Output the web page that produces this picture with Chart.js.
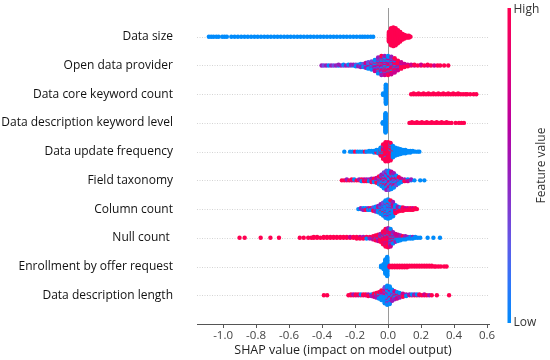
<!DOCTYPE html>
<html><head><meta charset="utf-8">
<script src="https://cdn.jsdelivr.net/npm/chart.js@4/dist/chart.umd.min.js"></script>
<style>html,body{margin:0;padding:0;background:#fff;}#wrap{width:550px;height:360px;}</style>
</head><body><div id="wrap"><canvas id="c" width="550" height="360"></canvas></div>
<script>
// Features, top to bottom
const features = ["Data size","Open data provider","Data core keyword count","Data description keyword level","Data update frequency","Field taxonomy","Column count","Null count ","Enrollment by offer request","Data description length"];
const xTicks = [-1.0,-0.8,-0.6,-0.4,-0.2,0.0,0.2,0.4,0.6];
const xTitle = "SHAP value (impact on model output)";
const cbarTitle = "Feature value";
const cbarHigh = "High", cbarLow = "Low";
// feature-value level of each point code: b=low ... r=high
const featureLevels = {b:0, v:0.3, p:0.5, m:0.72, r:1};

// Each entry: [SHAP value, one char per point at that value (its feature level)]
const dataSizeBins = [
[-1.086,"b"],[-1.072,"b"],[-1.058,"b"],[-1.041,"b"],[-1.027,"b"],[-1.005,"b"],[-0.991,"b"],[-0.977,"b"],
[-0.95,"b"],[-0.93,"b"],[-0.91,"b"],[-0.89,"b"],[-0.87,"b"],[-0.85,"b"],[-0.83,"b"],[-0.81,"b"],[-0.79,"b"],[-0.77,"b"],[-0.75,"b"],[-0.73,"b"],[-0.71,"b"],[-0.69,"b"],[-0.67,"b"],[-0.65,"b"],[-0.63,"b"],[-0.61,"b"],[-0.59,"b"],[-0.57,"b"],[-0.55,"b"],[-0.53,"b"],[-0.51,"b"],[-0.49,"b"],[-0.47,"b"],[-0.45,"b"],[-0.43,"b"],[-0.41,"b"],[-0.39,"b"],[-0.37,"b"],[-0.35,"b"],[-0.33,"b"],[-0.31,"b"],[-0.29,"b"],[-0.27,"b"],[-0.25,"b"],[-0.23,"b"],[-0.21,"b"],[-0.19,"b"],[-0.17,"b"],[-0.155,"b"],[-0.14,"b"],[-0.123,"b"],[-0.105,"b"],[-0.09,"b"],
[0.005,"rrrrrrrrrrr"],[0.018,"rrrrrrrrrrrrrrrrrrr"],[0.032,"rrrrrrrrrrrrrrrrrrrrr"],[0.046,"rrrrrrrrrrrrrrrrrrr"],[0.06,"rrrrrrrrrrrrrrr"],[0.074,"rrrrrrrrrrr"],[0.088,"rrrrrrr"],[0.1,"rrrrr"],[0.113,"rrr"],[0.126,"rrr"],[0.136,"r"]
];
const openDataProviderBins = [
[-0.403,"p"],[-0.39,"v"],[-0.375,"p"],[-0.36,"b"],[-0.345,"p"],[-0.33,"v"],[-0.315,"p"],[-0.3,"bp"],[-0.285,"p"],[-0.27,"vb"],[-0.255,"p"],[-0.24,"pb"],[-0.225,"vp"],[-0.21,"bp"],[-0.195,"pvb"],[-0.18,"pbp"],[-0.165,"bpvbp"],[-0.15,"pbmvb"],[-0.135,"pbvpbmp"],
[-0.12,"pbvpmbpvb"],[-0.10,"bpmvbpbrpvb"],[-0.08,"pbrvpbmbprbvpbm"],[-0.06,"rbpbmrvbprbpmbrpbvmpb"],[-0.04,"bprbmrpbvrbmpbrbprmbvpbrp"],[-0.02,"rbpmbrbprvbmrbpbrmpbrbvpm"],[0.0,"brpbrmbpbrvprbmbrpbmrbpbr"],[0.02,"rmbrpbrmrbpmrbrpbmrbrpm"],[0.04,"rmrpbrmrbrmprbrmprm"],[0.06,"rmrmprmrbrmrm"],[0.08,"rmrmrprmr"],[0.10,"rmrmr"],[0.12,"rmr"],
[0.14,"rm"],[0.16,"mr"],[0.18,"r"],[0.2,"rm"],[0.22,"r"],[0.24,"mr"],[0.26,"r"],[0.28,"m"],[0.30,"r"],[0.316,"r"],[0.34,"r"],[0.365,"r"]
];
const coreKeywordBins = [
[-0.03,"bbb"],[-0.013,"bbbbbbbbbbbbbbbbbbbbbbbbbbb"],
[0.14,"r"],[0.155,"rr"],[0.17,"r"],[0.185,"rr"],[0.2,"r"],[0.215,"rr"],[0.23,"r"],[0.245,"rr"],[0.26,"r"],[0.275,"rr"],[0.29,"r"],[0.305,"rr"],[0.32,"r"],[0.335,"rr"],[0.35,"r"],[0.365,"rr"],[0.38,"r"],[0.395,"rr"],[0.41,"r"],[0.425,"rr"],[0.44,"r"],[0.455,"r"],[0.47,"r"],[0.48,"r"],[0.498,"r"],[0.519,"r"],[0.535,"r"]
];
const descKeywordLevelBins = [
[-0.032,"bbb"],[-0.015,"bbbbbbbbbbbbbbbbbbbbbbbbbbb"],
[0.13,"r"],[0.145,"rr"],[0.16,"r"],[0.175,"rr"],[0.19,"r"],[0.205,"rr"],[0.22,"r"],[0.235,"rr"],[0.25,"r"],[0.265,"rr"],[0.28,"r"],[0.295,"rr"],[0.31,"r"],[0.325,"rr"],[0.34,"r"],[0.355,"rr"],[0.37,"r"],[0.385,"r"],[0.41,"r"],[0.43,"r"],[0.445,"r"],[0.46,"r"]
];
const updateFrequencyBins = [
[-0.265,"b"],[-0.23,"b"],[-0.215,"b"],[-0.2,"r"],[-0.185,"b"],[-0.17,"b"],[-0.155,"b"],[-0.14,"r"],[-0.13,"b"],[-0.115,"bb"],[-0.1,"bb"],[-0.085,"bbb"],[-0.07,"bbrb"],[-0.058,"bbrbb"],
[-0.045,"rbbrbbrbbbr"],[-0.03,"rrrrbrrrbrrprrrbrrr"],[-0.015,"rrrrrrrprrrrrrrrbrrrrrrrr"],[0.0,"rrrrrrrrrrprrrrrrrrrrrrrr"],[0.015,"rrrrrbrrrrrrrbrrrrrbrrr"],[0.03,"rbrbbrbbbbbbbbb"],[0.045,"bbbbbbbbbbb"],[0.06,"bbbbbbbbb"],[0.075,"bbbbbbb"],[0.09,"bbbbb"],[0.105,"bbbbb"],[0.12,"bbb"],[0.135,"bbb"],[0.15,"bb"],[0.165,"b"],[0.18,"b"],[0.19,"b"]
];
const fieldTaxonomyBins = [
[-0.28,"r"],[-0.265,"r"],[-0.25,"rp"],[-0.235,"r"],[-0.22,"pr"],[-0.205,"rb"],[-0.19,"r"],[-0.175,"rp"],[-0.16,"prb"],[-0.145,"rmr"],[-0.13,"bpr"],[-0.115,"rpb"],[-0.1,"prbpr"],[-0.085,"brprb"],[-0.07,"pbrpbmr"],
[-0.055,"bprbmpbvprb"],[-0.04,"pbvbprbmbpvbrpb"],[-0.025,"bpbvmbprbpbvrbpmbpbvb"],[-0.01,"pbmbvpbrbpvbmbpbrvbpbmbvp"],[0.005,"bpvbmbpbrbvpbmbpvbrbpbmbv"],[0.02,"pbvbmpbrbpvbmbpbvrbpbmb"],[0.035,"bpbmvbprbpbvmbpbrpb"],[0.05,"pbmbvpbrbpmbv"],[0.065,"bpmbvbprb"],[0.08,"bpbmb"],
[0.1,"bpr"],[0.12,"pbm"],[0.14,"bp"],[0.16,"b"],[0.195,"b"],[0.22,"b"]
];
const columnCountBins = [
[-0.18,"b"],[-0.165,"bp"],[-0.15,"rbp"],[-0.135,"pbr"],[-0.12,"bpb"],[-0.105,"prb"],[-0.09,"bpbvr"],[-0.075,"pbrbvbp"],[-0.06,"bpbvbrbpb"],[-0.045,"bpbvbpbbrbbpb"],[-0.03,"bpbbvbbpbbrbbpbvb"],[-0.015,"bbpbbvbbpbbbrbbpbvbbpbb"],[0.0,"bbpbvbbpbbbvbbpbbrbbpbvbb"],[0.015,"bpbbvbbpbbmbbpbvbbpbbrb"],[0.03,"bpbrbvbpbrbpbmbrbpb"],[0.045,"rbpbmbrbpbr"],[0.06,"rbmrbpr"],[0.075,"rmrbr"],[0.09,"rmbrr"],[0.105,"rmr"],[0.12,"rmr"],[0.135,"mrr"],[0.15,"rmr"],[0.165,"rr"],[0.175,"r"]
];
const nullCountBins = [
[-0.9,"r"],[-0.869,"r"],[-0.772,"r"],[-0.713,"r"],[-0.661,"r"],[-0.535,"r"],[-0.511,"r"],[-0.484,"r"],
[-0.465,"r"],[-0.45,"rr"],[-0.43,"rr"],[-0.41,"r"],[-0.39,"rr"],[-0.37,"rr"],[-0.35,"rr"],[-0.33,"rr"],[-0.31,"rr"],[-0.29,"rr"],[-0.27,"rr"],[-0.25,"rr"],[-0.23,"rm"],[-0.21,"rr"],[-0.19,"rrr"],[-0.17,"rmr"],[-0.15,"rpr"],[-0.13,"rrb"],[-0.11,"mrp"],[-0.09,"rpbrm"],[-0.075,"rmrpbrr"],[-0.06,"rprmbrprm"],
[-0.045,"rmrprbrmrpr"],[-0.03,"rrmrprrbrmrprrmrr"],[-0.015,"rrrmrprrrbrmrrprrmrrprr"],[0.0,"rrprrmrrrprbrrmrrprrrmrpr"],[0.015,"prmrpbrmprbpmrprbmprpbm"],[0.03,"pbmprbpmbprbmpb"],[0.045,"bpmbrpbpbmp"],[0.06,"bpbrbpbmb"],[0.075,"bpbmbpb"],[0.09,"bpbrb"],[0.105,"bpbpb"],[0.12,"bpb"],[0.135,"pbb"],[0.15,"bpb"],[0.165,"bb"],[0.18,"b"],[0.195,"b"],[0.24,"b"],[0.275,"b"],[0.315,"b"]
];
const enrollmentBins = [
[-0.042,"bbb"],[-0.027,"bbbbbbb"],[-0.016,"bbbbbbbbbbbbbbbbbbb"],[-0.005,"bbbbbbbbbbbbbbbbbbbbbbbbb"],
[0.01,"rrr"],[0.025,"rrr"],[0.04,"rrr"],[0.055,"rrr"],[0.07,"rrr"],[0.085,"rrr"],[0.1,"rrr"],[0.115,"rrr"],[0.13,"rr"],[0.145,"rr"],[0.16,"rr"],[0.175,"rr"],[0.19,"rr"],[0.205,"rr"],[0.22,"rr"],[0.235,"rr"],[0.25,"rr"],[0.265,"rr"],[0.28,"r"],[0.29,"r"],[0.305,"r"],[0.32,"r"],[0.34,"r"],[0.355,"r"]
];
const descLengthBins = [
[-0.389,"r"],[-0.369,"r"],[-0.24,"r"],[-0.225,"rr"],[-0.21,"rp"],[-0.195,"rr"],[-0.18,"pr"],[-0.165,"rb"],[-0.15,"rr"],[-0.135,"mr"],[-0.12,"rpr"],[-0.1,"rbp"],[-0.085,"prbrm"],[-0.07,"rbpbmrp"],[-0.055,"bprbmbprb"],[-0.04,"bpbrbvbmbpbrb"],[-0.02,"bpbvbrbpbmbvbpbrbpbvb"],[-0.005,"bbpbvbbpbrbbvbpbbmbbpbvbb"],[0.01,"bpbvbbpbrbvbbpbmbbpbvbb"],[0.025,"bpbmbvbprbpbmbp"],[0.04,"pbmbrpbvbmp"],[0.055,"rbpmbrpbm"],[0.07,"rpbmrbp"],[0.09,"prbmr"],[0.11,"rpb"],
[0.13,"rp"],[0.145,"mb"],[0.16,"rp"],[0.175,"rb"],[0.19,"pr"],[0.205,"r"],[0.22,"rm"],[0.235,"r"],[0.25,"p"],[0.265,"r"],[0.296,"r"],[0.37,"r"]
];
const rowBins = [dataSizeBins,openDataProviderBins,coreKeywordBins,descKeywordLevelBins,updateFrequencyBins,fieldTaxonomyBins,columnCountBins,nullCountBins,enrollmentBins,descLengthBins];

// SHAP red_blue colormap (approx.)
const cmapStops = [[0,[0,139,251]],[0.125,[45,118,250]],[0.25,[95,90,232]],[0.375,[130,55,207]],[0.5,[155,25,185]],[0.625,[185,0,160]],[0.75,[212,0,135]],[0.875,[235,0,106]],[1,[255,0,81]]];
function cmap(t){
  for(let i=1;i<cmapStops.length;i++){
    const [t1,c1]=cmapStops[i], [t0,c0]=cmapStops[i-1];
    if(t<=t1){const f=(t-t0)/(t1-t0);return 'rgb('+c0.map((c,k)=>Math.round(c+(c1[k]-c)*f)).join(',')+')';}
  }
  return 'rgb(255,0,81)';
}

// beeswarm layout (as in shap.summary_plot)
const points=[], pointColors=[];
const nRows = features.length;
rowBins.forEach((bins,i)=>{
  const pos = nRows-1-i;
  let K=0; bins.forEach(b=>{K=Math.max(K,Math.floor(b[1].length/2));});
  const sc = 0.9*0.4/(K+1);
  bins.forEach(([x,s])=>{
    for(let j=0;j<s.length;j++){
      const off = Math.ceil(j/2)*((j%2)*2-1);
      points.push({x:x,y:pos+off*sc});
      pointColors.push(cmap(featureLevels[s[j]]));
    }
  });
});

const bgPlugin = {id:'bg', beforeDatasetsDraw(chart){
  const {ctx, chartArea:a, scales:{x,y}} = chart;
  ctx.save();
  ctx.strokeStyle='#d4d4d4'; ctx.lineWidth=1; ctx.setLineDash([1,1.5]);
  for(let i=0;i<nRows;i++){const py=Math.round(y.getPixelForValue(i))+0.5;ctx.beginPath();ctx.moveTo(a.left,py);ctx.lineTo(a.right,py);ctx.stroke();}
  ctx.setLineDash([]);
  ctx.strokeStyle='#9a9a9a';
  const px=Math.round(x.getPixelForValue(0))+0.5;
  ctx.beginPath();ctx.moveTo(px,a.top);ctx.lineTo(px,a.bottom);ctx.stroke();
  ctx.restore();
}};
const cbPlugin = {id:'cb', afterDraw(chart){
  const {ctx, chartArea:a} = chart;
  const x0=a.right+18.5, w=3.5, top=a.top, bot=a.bottom-1;
  const g=ctx.createLinearGradient(0,bot,0,top);
  cmapStops.forEach(([t,c])=>g.addColorStop(t,'rgb('+c.join(',')+')'));
  ctx.save();
  ctx.fillStyle=g; ctx.fillRect(x0,top,w,bot-top);
  ctx.fillStyle='#333'; ctx.font='12px "Open Sans"'; ctx.textBaseline='middle'; ctx.textAlign='left';
  ctx.fillText(cbarHigh,x0+6,top+2);
  ctx.fillText(cbarLow,x0+6,bot);
  ctx.translate(a.right+53,(top+bot)/2); ctx.rotate(-Math.PI/2); ctx.textAlign='center';
  ctx.fillText(cbarTitle,0,0);
  ctx.restore();
}};

new Chart(document.getElementById('c'),{
  type:'scatter',
  data:{datasets:[{data:points,backgroundColor:pointColors,pointBackgroundColor:pointColors,pointRadius:2.2,pointBorderWidth:0,borderWidth:0}]},
  options:{
    responsive:false, animation:false, events:[],
    layout:{padding:{top:8,right:61,left:0,bottom:0}},
    plugins:{legend:{display:false},tooltip:{enabled:false}},
    scales:{
      x:{type:'linear',min:-1.158,max:0.612,
        afterBuildTicks:s=>{s.ticks=xTicks.map(v=>({value:v}));},
        ticks:{callback:v=>v.toFixed(1),color:'#444',font:{family:'Open Sans',size:11.5},padding:1,maxRotation:0,autoSkip:false},
        grid:{display:true,drawOnChartArea:false,color:'#555',tickColor:'#555',tickLength:4},
        border:{display:true,color:'#555',width:1},
        title:{display:true,text:xTitle,color:'#222',font:{family:'Open Sans',size:12.5},padding:{top:0,bottom:2}},
        afterFit:s=>{s.height=36;s.paddingLeft=0;s.paddingRight=0;}
      },
      y:{type:'linear',min:-1,max:10,
        afterBuildTicks:s=>{s.ticks=features.map((f,i)=>({value:nRows-1-i}));},
        ticks:{callback:v=>features[nRows-1-v],color:'#111',font:{family:'Open Sans',size:12},padding:24,autoSkip:false},
        grid:{display:false,drawTicks:false},
        border:{display:false},
        afterFit:s=>{s.width=197;s.paddingTop=0;s.paddingBottom=0;}
      }
    }
  },
  plugins:[bgPlugin,cbPlugin]
});
</script></body></html>
